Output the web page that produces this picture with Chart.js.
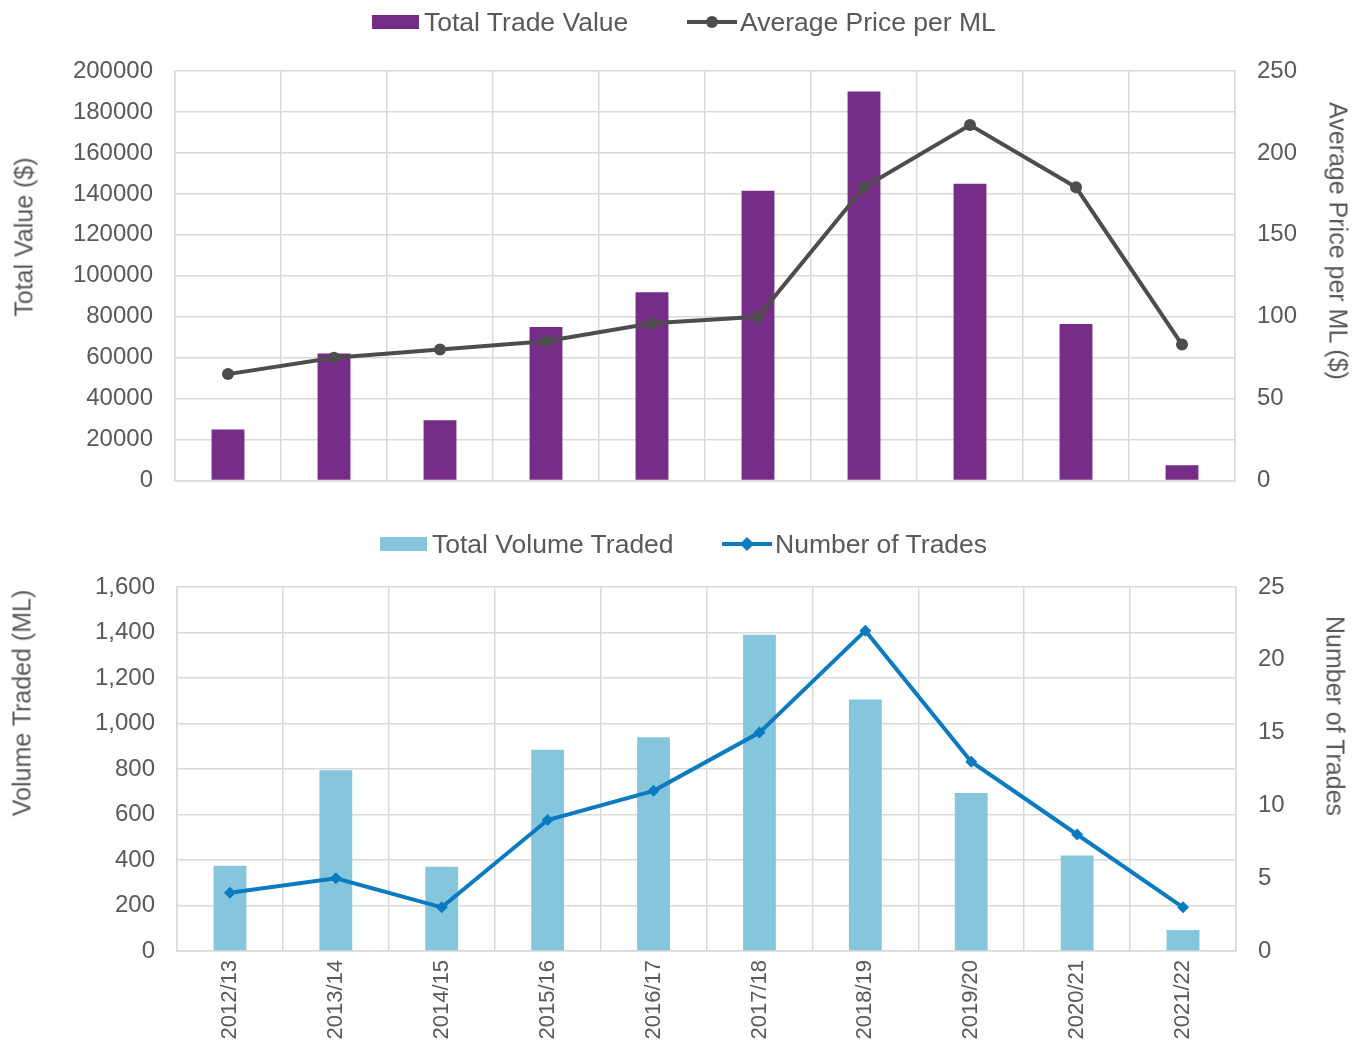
<!DOCTYPE html>
<html>
<head>
<meta charset="utf-8">
<title>Trade value and volume</title>
<script src="https://cdn.jsdelivr.net/npm/chart.js@4.4.1/dist/chart.umd.min.js"></script>
<style>
  body { margin: 0; background: #fff; font-family: "Liberation Sans", Arial, sans-serif; color: #595959; }
  .panel { position: absolute; left: 0; width: 1358px; }
  #topPanel { top: 0; height: 517px; }
  #bottomPanel { top: 500px; height: 546px; }
  .item { position: absolute; height: 30px; display: flex; align-items: center; font-size: 26.5px; white-space: nowrap; }
  .box { display: inline-block; width: 47px; height: 14px; margin-right: 5px; }
  .mark { position: relative; display: inline-block; width: 50px; height: 14px; margin-right: 3px; }
  .mark .ln { position: absolute; left: 0; right: 0; top: 5px; height: 4px; }
  .mark .dot { position: absolute; left: 19px; top: 1px; width: 12px; height: 12px; border-radius: 50%; }
  .mark .dia { position: absolute; left: 20px; top: 2px; width: 10px; height: 10px; transform: rotate(45deg); }
  .atitle { position: absolute; font-size: 25px; white-space: nowrap; transform: translate(-50%, -50%) rotate(-90deg); }
  .atitle.r { transform: translate(-50%, -50%) rotate(90deg); }
</style>
</head>
<body>

<div class="panel" id="topPanel">
  <canvas id="valueChart"></canvas>
  <div class="item" style="left:372px; top:7px;"><span class="box" style="background:#762d87"></span>Total Trade Value</div>
  <div class="item" style="left:687px; top:7px;"><span class="mark"><span class="ln" style="background:#4d4d4d"></span><span class="dot" style="background:#4d4d4d"></span></span>Average Price per ML</div>
  <div class="atitle" style="left:24px; top:237px;">Total Value ($)</div>
  <div class="atitle r" style="left:1338px; top:241px;">Average Price per ML ($)</div>
</div>

<div class="panel" id="bottomPanel">
  <canvas id="volumeChart"></canvas>
  <div class="item" style="left:380px; top:29px;"><span class="box" style="background:#85c6dd"></span>Total Volume Traded</div>
  <div class="item" style="left:722px; top:29px;"><span class="mark"><span class="ln" style="background:#0b7bc1"></span><span class="dia" style="background:#0b7bc1"></span></span>Number of Trades</div>
  <div class="atitle" style="left:22px; top:203px;">Volume Traded (ML)</div>
  <div class="atitle r" style="left:1335px; top:216px;">Number of Trades</div>
</div>

<script>
// Data
const seasons = ['2012/13', '2013/14', '2014/15', '2015/16', '2016/17', '2017/18', '2018/19', '2019/20', '2020/21', '2021/22'];
const tradeValue = [25000, 62000, 29500, 75000, 92000, 141500, 190000, 145000, 76500, 7500];
const avgPrice = [65, 75, 80, 85, 96, 100, 179, 217, 179, 83];
const volumeTraded = [375, 795, 370, 885, 940, 1390, 1105, 695, 420, 92];
const tradeCount = [4, 5, 3, 9, 11, 15, 22, 13, 8, 3];

// Tick labels
const valueTicks = [0, 20000, 40000, 60000, 80000, 100000, 120000, 140000, 160000, 180000, 200000];
const priceTicks = [0, 50, 100, 150, 200, 250];
const volumeTicks = [0, 200, 400, 600, 800, 1000, 1200, 1400, 1600];
const countTicks = [0, 5, 10, 15, 20, 25];

Chart.defaults.font.family = "'Liberation Sans', Arial, sans-serif";
Chart.defaults.color = '#595959';
Chart.defaults.animation = false;

const gridColor = '#d9d9d9';

function range(ticks) {
    return { min: ticks[0], max: ticks[ticks.length - 1], stepSize: ticks[1] - ticks[0] };
}

function yAxis(ticks, side, width, fmt, grid) {
    const r = range(ticks);
    return {
        position: side,
        min: r.min,
        max: r.max,
        afterFit: function (scale) { scale.width = width; },
        border: { color: gridColor, width: 1.5 },
        grid: { color: gridColor, lineWidth: 1.5, drawTicks: false, drawOnChartArea: grid },
        ticks: { stepSize: r.stepSize, padding: 22, font: { size: 24 }, callback: fmt }
    };
}

// Top: value and price
new Chart(document.getElementById('valueChart'), {
    type: 'bar',
    data: {
        labels: seasons,
        datasets: [{
                type: 'bar',
                label: 'Total Trade Value',
                data: tradeValue,
                backgroundColor: '#762d87',
                barPercentage: 0.31,
                categoryPercentage: 1,
                yAxisID: 'y',
                order: 1
            },
            {
                type: 'line',
                label: 'Average Price per ML',
                data: avgPrice,
                borderColor: '#4d4d4d',
                backgroundColor: '#4d4d4d',
                borderWidth: 4,
                pointRadius: 6,
                pointBorderWidth: 0,
                tension: 0,
                yAxisID: 'y1',
                order: 0
            }
        ]
    },
    options: {
        responsive: true,
        maintainAspectRatio: false,
        layout: { padding: { top: 71 } },
        plugins: { legend: { display: false }, tooltip: { enabled: false } },
        scales: {
            x: {
                afterFit: function (scale) { scale.height = 20; },
                border: { color: gridColor, width: 1.5 },
                grid: { color: gridColor, lineWidth: 1.5, drawTicks: false },
                ticks: { display: false }
            },
            y: yAxis(valueTicks, 'left', 175, v => String(v), true),
            y1: yAxis(priceTicks, 'right', 123, v => String(v), false)
        }
    }
});

// Bottom: volume and number of trades
new Chart(document.getElementById('volumeChart'), {
    type: 'bar',
    data: {
        labels: seasons,
        datasets: [{
                type: 'bar',
                label: 'Total Volume Traded',
                data: volumeTraded,
                backgroundColor: '#85c6dd',
                barPercentage: 0.31,
                categoryPercentage: 1,
                yAxisID: 'y',
                order: 1
            },
            {
                type: 'line',
                label: 'Number of Trades',
                data: tradeCount,
                borderColor: '#0b7bc1',
                backgroundColor: '#0b7bc1',
                borderWidth: 4,
                pointStyle: 'rectRot',
                pointRadius: 6,
                pointBorderWidth: 0,
                tension: 0,
                yAxisID: 'y1',
                order: 0
            }
        ]
    },
    options: {
        responsive: true,
        maintainAspectRatio: false,
        layout: { padding: { top: 87 } },
        plugins: { legend: { display: false }, tooltip: { enabled: false } },
        scales: {
            x: {
                afterFit: function (scale) { scale.height = 95; },
                border: { color: gridColor, width: 1.5 },
                grid: { color: gridColor, lineWidth: 1.5, drawTicks: false },
                ticks: { autoSkip: false, minRotation: 90, maxRotation: 90, padding: 9, font: { size: 22 } }
            },
            y: yAxis(volumeTicks, 'left', 177, v => v.toLocaleString('en-US'), true),
            y1: yAxis(countTicks, 'right', 122, v => String(v), false)
        }
    }
});
</script>
</body>
</html>
